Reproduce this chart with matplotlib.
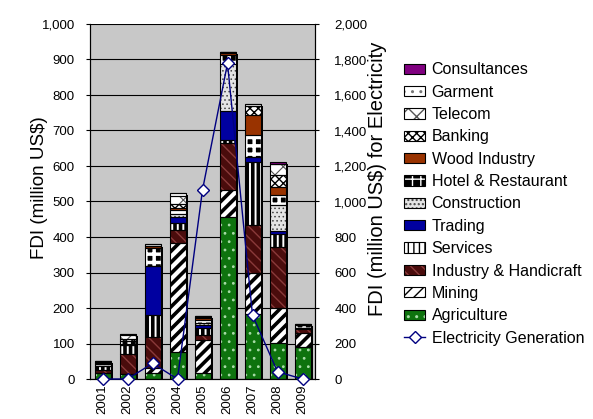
import matplotlib
matplotlib.use("Agg")
import matplotlib as mpl
import matplotlib.pyplot as plt
from matplotlib.patches import Patch
from matplotlib.lines import Line2D
from matplotlib.legend_handler import HandlerTuple
import numpy as np

plt.rcParams['font.family'] = ['Liberation Sans', 'DejaVu Sans']

years = ['2001', '2002', '2003', '2004', '2005', '2006', '2007', '2008', '2009']

# FDI by sector, million US$ (stacked bottom to top)
agriculture  = [18, 14, 16, 77, 16, 457, 182, 101, 91]
mining       = [0, 0, 14, 307, 94, 75, 116, 100, 38]
industry     = [8, 56, 89, 37, 14, 132, 136, 172, 11]
services     = [12, 25, 61, 19, 21, 8, 178, 35, 5]
trading      = [0, 0, 137, 17, 7, 83, 14, 9, 0]
construction = [3, 5, 0, 8, 5, 131, 0, 73, 0]
hotel        = [4, 8, 53, 12, 10, 28, 61, 28, 6]
wood         = [0, 0, 5, 5, 4, 4, 57, 23, 0]
banking      = [2, 5, 0, 12, 4, 2, 25, 34, 2]
telecom      = [3, 10, 0, 22, 3, 0, 0, 32, 2]
garment      = [2, 5, 4, 8, 0, 2, 6, 0, 0]
consultances = [0, 0, 0, 0, 0, 0, 0, 5, 0]

# Electricity generation FDI, million US$ (right axis)
electricity = [0, 0, 88, 0, 1065, 1778, 360, 41, 0]

# name, values, face colour, hatch, hatch colour, hatch width
sectors = [
    ('Agriculture', agriculture, '#0E730E', '..', '#A8DCA8', 0.8),
    ('Mining', mining, 'white', '///', 'black', 2.6),
    ('Industry & Handicraft', industry, '#4A0C0C', '\\\\\\', '#8A3A3A', 1.0),
    ('Services', services, 'white', '|||', 'black', 2.6),
    ('Trading', trading, '#0000A0', '', '#0000A0', 1.0),
    ('Construction', construction, '#E4E4E4', '....', '#444444', 0.6),
    ('Hotel & Restaurant', hotel, 'black', '++', 'white', 2.5),
    ('Wood Industry', wood, '#993300', '', '#993300', 1.0),
    ('Banking', banking, 'white', 'xxxx', 'black', 1.0),
    ('Telecom', telecom, 'white', 'xx', '#555555', 0.8),
    ('Garment', garment, 'white', '..', '#777777', 0.6),
    ('Consultances', consultances, '#800080', '', '#800080', 1.0),
]

fig = plt.figure(figsize=(5.93, 4.19), dpi=100)
ax = fig.add_axes([90 / 593, 1 - 379 / 419, 225 / 593, 355 / 419])
ax.set_facecolor('#C8C8C8')

x = np.arange(len(years))
width = 0.64
totals = np.zeros(len(years))
for s in sectors:
    totals += np.array(s[1], dtype=float)

# drop shadow behind each column
ax.bar(x + 0.1, totals - 4, width, bottom=-2, color='black', zorder=1.5, linewidth=0)

bottom = np.zeros(len(years))
handles = []
for name, vals, fc, hatch, hc, hlw in sectors:
    vals = np.array(vals, dtype=float)
    with mpl.rc_context({'hatch.linewidth': hlw}):
        ax.bar(x, vals, width, bottom=bottom, color=fc, edgecolor=hc,
               hatch=hatch, linewidth=0, zorder=2)
        ax.bar(x, vals, width, bottom=bottom, fill=False, edgecolor='black',
               linewidth=0.8, zorder=2.5)
        hp = Patch(facecolor=fc, edgecolor=hc, hatch=hatch, linewidth=0)
    ho = Patch(fill=False, edgecolor='black', linewidth=0.8)
    handles.append(((hp, ho), name))
    bottom += vals

ax.set_xlim(-0.5, len(years) - 0.5)
ax.set_ylim(0, 1000)
ax.set_yticks(np.arange(0, 1001, 100))
ax.set_yticklabels([f'{v:,}' for v in range(0, 1001, 100)], fontsize=9.5)
ax.yaxis.grid(True, color='black', linewidth=0.8)
ax.set_axisbelow(True)
ax.set_xticks(x)
ax.set_xticklabels(years, rotation=90, fontsize=9.5)
ax.tick_params(axis='x', length=0, pad=4)
ax.tick_params(axis='y', length=3, pad=8)
ax.set_ylabel('FDI (million US$)', fontsize=13.5)
ax.yaxis.set_label_coords(-0.187, 0.54)
for sp in ax.spines.values():
    sp.set_linewidth(0.8)
ax.spines['top'].set_visible(False)

ax2 = ax.twinx()
ax2.plot(x, electricity, color='#000080', linewidth=1.0, marker='D',
         markersize=6, markerfacecolor='white', markeredgecolor='#000080',
         markeredgewidth=1.0, zorder=5, clip_on=False)
ax2.set_ylim(0, 2000)
ax2.set_yticks(np.arange(0, 2001, 200))
ax2.set_yticklabels([f'{v:,}' for v in range(0, 2001, 200)], fontsize=9.5)
ax2.tick_params(axis='y', length=3, pad=11)
ax2.set_ylabel('FDI (million US$) for Electricity', fontsize=14.5)
ax2.yaxis.set_label_coords(1.236, 0.565)
ax2.spines['top'].set_visible(False)
for sp in ax2.spines.values():
    sp.set_linewidth(0.8)

leg_handles = [h for h, _ in handles[::-1]]
leg_labels = [n for _, n in handles[::-1]]
leg_handles.append(Line2D([], [], color='#000080', linewidth=1.0, marker='D',
                          markersize=6, markerfacecolor='white',
                          markeredgecolor='#000080'))
leg_labels.append('Electricity Generation')
fig.legend(leg_handles, leg_labels, loc='upper left',
           bbox_to_anchor=(398 / 593, 1 - 56 / 419), frameon=False,
           fontsize=11.5, handlelength=1.3, handleheight=0.6,
           handletextpad=0.4, labelspacing=0.46, borderaxespad=0,
           handler_map={tuple: HandlerTuple(ndivide=1, pad=0)})

fig.savefig('out.png', dpi=100)
